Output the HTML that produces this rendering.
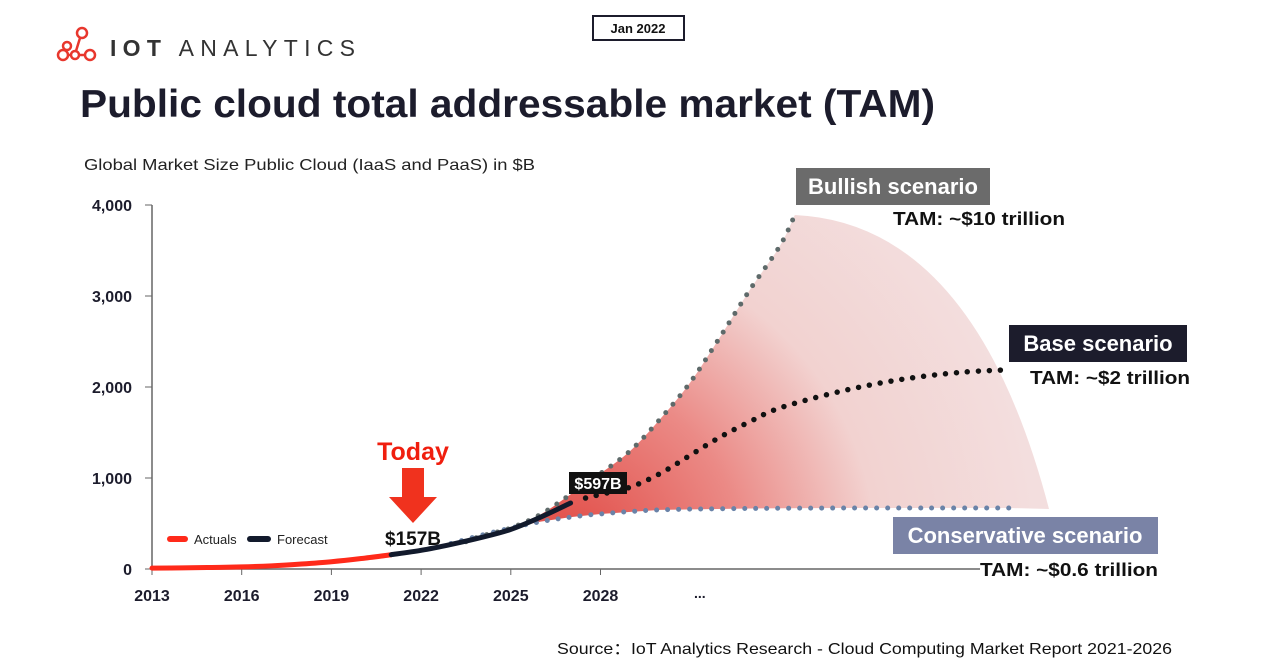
<!DOCTYPE html>
<html><head><meta charset="utf-8"><style>
body{margin:0;width:1280px;height:670px;background:#fff;overflow:hidden;font-family:"Liberation Sans",sans-serif}
svg{position:absolute;left:0;top:0}
</style></head><body>
<svg width="1280" height="670">
<defs>
<radialGradient id="fan" cx="560" cy="560" r="480" gradientUnits="userSpaceOnUse">
<stop offset="0" stop-color="#e0453f"/>
<stop offset="0.38" stop-color="#eb8a86"/>
<stop offset="0.66" stop-color="#f2d2d0"/>
<stop offset="1" stop-color="#f3dede"/>
</radialGradient>
</defs>
<g fill="none" stroke="#e8372d" stroke-width="2.5">
<circle cx="82" cy="33" r="5"/><circle cx="67" cy="46" r="4"/><circle cx="63" cy="55" r="5"/><circle cx="75" cy="55" r="4"/><circle cx="90" cy="55" r="5"/>
<path d="M80 38 L76 51 M68 55 L71 55 M79 55 L85 55"/>
</g>
<text x="110" y="56" font-size="23" textLength="245" lengthAdjust="spacing" fill="#333"><tspan font-weight="bold">IOT</tspan> ANALYTICS</text>
<rect x="593" y="16" width="91" height="24" fill="#fff" stroke="#1c1c2c" stroke-width="2"/>
<text x="638" y="33" font-size="13" font-weight="bold" text-anchor="middle" fill="#111">Jan 2022</text>
<text x="80" y="117" font-size="39" font-weight="bold" textLength="855" lengthAdjust="spacingAndGlyphs" fill="#1c1c2c">Public cloud total addressable market (TAM)</text>
<text x="84" y="170" font-size="16" textLength="451" lengthAdjust="spacingAndGlyphs" fill="#222">Global Market Size Public Cloud (IaaS and PaaS) in $B</text>
<g id="plot"></g>
<text x="557" y="654" font-size="16" textLength="615" lengthAdjust="spacingAndGlyphs" fill="#111">Source：IoT Analytics Research - Cloud Computing Market Report 2021-2026</text>
</svg>
<script>
const yTicks=[0,1000,2000,3000,4000];
const yTickLabels=["0","1,000","2,000","3,000","4,000"];
const xTicks=[2013,2016,2019,2022,2025,2028];
const actualYears=[2013,2014,2015,2016,2017,2018,2019,2020,2021];
const actualVals=[10,12,17,23,35,55,80,115,157];
const forecastYears=[2021,2022,2023,2024,2025,2026,2027];
const forecastVals=[157,205,270,345,435,570,725];
const bullYears=[2023.5,2024,2025,2026,2027,2028,2029,2030,2031,2032,2033,2034,2034.5];
const bullVals=[300,360,450,600,820,1050,1300,1650,2050,2550,3070,3550,3890];
const baseYears=[2027.5,2028,2029,2030,2031,2032,2033,2034,2036,2038,2040,2041.7];
const baseVals=[780,820,900,1050,1250,1450,1620,1770,1950,2080,2160,2190];
const consYears=[2023,2024,2025,2026,2027,2028,2030,2033,2036,2039,2041.7];
const consVals=[280,370,450,520,570,605,650,665,670,670,670];
const NS="http://www.w3.org/2000/svg";
const X=y=>152+(y-2013)*29.9;
const Y=v=>569-v*0.091;
const plot=document.getElementById('plot');
function mk(t,a,p){const e=document.createElementNS(NS,t);for(const k in a)e.setAttribute(k,a[k]);(p||plot).appendChild(e);return e;}
function smooth(xs,vs){let pts=xs.map((x,i)=>[X(x),Y(vs[i])]);let d="M"+pts[0];for(let i=1;i<pts.length;i++){const p0=pts[Math.max(i-2,0)],p1=pts[i-1],p2=pts[i],p3=pts[Math.min(i+1,pts.length-1)];d+=" C"+(p1[0]+(p2[0]-p0[0])/6)+","+(p1[1]+(p2[1]-p0[1])/6)+" "+(p2[0]-(p3[0]-p1[0])/6)+","+(p2[1]-(p3[1]-p1[1])/6)+" "+p2[0]+","+p2[1];}return d;}
let cl=consYears.length-1;
let fd=smooth(bullYears,bullVals)+` Q${X(2040.5)},${Y(3800)} ${X(2043)},${Y(660)} L${X(consYears[cl])},${Y(consVals[cl])}`;
for(let i=cl;i>=0;i--)fd+=` L${X(consYears[i])},${Y(consVals[i])}`;
fd+=" Z";
let fan=mk('path',{d:fd,fill:'url(#fan)'});


let ya=mk('line',{x1:152,y1:205,x2:152,y2:569,stroke:'#666','stroke-width':1.5});


let xa=mk('line',{x1:152,y1:569,x2:980,y2:569,stroke:'#666','stroke-width':1.5});


yTicks.forEach((v,i)=>{mk('line',{x1:145,x2:152,y1:Y(v),y2:Y(v),stroke:'#666'});
let t=mk('text',{x:132,y:Y(v)+6,'font-size':16,'font-weight':'bold','text-anchor':'end',fill:'#1c1c2c'});t.textContent=yTickLabels[i];

});
xTicks.forEach(v=>{mk('line',{x1:X(v),x2:X(v),y1:569,y2:575,stroke:'#666'});
let t=mk('text',{x:X(v),y:601,'font-size':16,'font-weight':'bold','text-anchor':'middle',fill:'#1c1c2c'});t.textContent=v;

});
let el=mk('text',{x:694,y:598,'font-size':14,'font-weight':'bold',fill:'#1c1c2c'});el.textContent="...";
function dots(xs,vs,col,name,r){let p=mk('path',{d:smooth(xs,vs),fill:'none',stroke:col,'stroke-width':r,'stroke-linecap':'round','stroke-dasharray':'0 11'});

}
dots(consYears,consVals,'#6a83a8','conservative-line',5);
dots(bullYears,bullVals,'#5e6a6a','bullish-line',5);
dots(baseYears,baseVals,'#111','base-line',5.5);
let a=mk('path',{d:smooth(actualYears,actualVals),fill:'none',stroke:'#ff2a1a','stroke-width':5,'stroke-linecap':'round'});


let f=mk('path',{d:smooth(forecastYears,forecastVals),fill:'none',stroke:'#121a2c','stroke-width':5,'stroke-linecap':'round'});


</script>
<svg width="1280" height="670" style="pointer-events:none">
<g>
<line x1="170" y1="539" x2="185" y2="539" stroke="#ff2a1a" stroke-width="6" stroke-linecap="round"/>
<text x="194" y="544" font-size="13" fill="#222">Actuals</text>
<line x1="250" y1="539" x2="268" y2="539" stroke="#121a2c" stroke-width="6" stroke-linecap="round"/>
<text x="277" y="544" font-size="13" fill="#222">Forecast</text>
</g>
<text x="413" y="460" font-size="25" font-weight="bold" fill="#f01e0e" text-anchor="middle">Today</text>
<path d="M402 468 H424 V497 H437 L413 523 L389 497 H402 Z" fill="#f0321e"/>
<text x="413" y="545" font-size="19" font-weight="bold" fill="#111" text-anchor="middle">$157B</text>
<rect x="569" y="472" width="58" height="22" fill="#111"/>
<text x="598" y="489" font-size="16" font-weight="bold" fill="#fff" text-anchor="middle">$597B</text>
<rect x="796" y="168" width="194" height="37" fill="#6b6b6b"/>
<text x="893" y="194" font-size="22" font-weight="bold" fill="#fff" text-anchor="middle">Bullish scenario</text>
<text x="893" y="225" font-size="18" font-weight="bold" textLength="172" lengthAdjust="spacingAndGlyphs" fill="#111">TAM: ~$10 trillion</text>
<rect x="1009" y="325" width="178" height="37" fill="#1c1c2c"/>
<text x="1098" y="351" font-size="22" font-weight="bold" fill="#fff" text-anchor="middle">Base scenario</text>
<text x="1030" y="384" font-size="18" font-weight="bold" textLength="160" lengthAdjust="spacingAndGlyphs" fill="#111">TAM: ~$2 trillion</text>
<rect x="893" y="517" width="265" height="37" fill="#7a83a6"/>
<text x="1025" y="543" font-size="22" font-weight="bold" fill="#fff" text-anchor="middle">Conservative scenario</text>
<text x="980" y="576" font-size="18" font-weight="bold" textLength="178" lengthAdjust="spacingAndGlyphs" fill="#111">TAM: ~$0.6 trillion</text>
</svg>
</body></html>
